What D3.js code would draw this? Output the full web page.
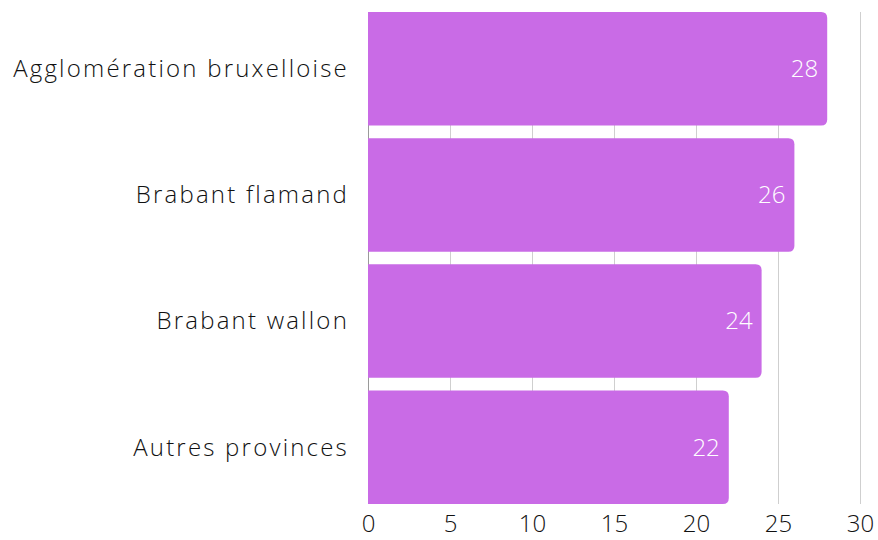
<!DOCTYPE html>
<html><head><meta charset="utf-8">
<script src="https://cdn.jsdelivr.net/npm/d3@7"></script>
<style>html,body{margin:0;padding:0;background:#fff;}</style>
</head><body>
<svg id="chart" width="878" height="540"></svg>
<script>
const categories = ["Agglomération bruxelloise", "Brabant flamand", "Brabant wallon", "Autres provinces"];
const values = [28, 26, 24, 22];
const tickValues = [0, 5, 10, 15, 20, 25, 30];

const svg = d3.select("#chart");
const font = "'Open Sans'";
const x = d3.scaleLinear().domain([0, 30]).range([368, 860]);
const y = d3.scaleBand().domain(categories).range([12, 504]).paddingInner(0.1).paddingOuter(0);

svg.append("g").selectAll("line").data(tickValues).join("line")
  .attr("x1", d => x(d) + 0.5).attr("x2", d => x(d) + 0.5)
  .attr("y1", 12).attr("y2", 504)
  .attr("stroke", d => d === 0 ? "#9a9a9a" : "#cfcfcf").attr("stroke-width", 1);

const r = 6;
svg.append("g").selectAll("path").data(values).join("path")
  .attr("fill", "#C96BE6")
  .attr("d", (d, i) => {
    const x0 = x(0), x1 = x(d), y0 = y(categories[i]), h = y.bandwidth();
    return `M${x0},${y0}H${x1 - r}Q${x1},${y0} ${x1},${y0 + r}V${y0 + h - r}Q${x1},${y0 + h} ${x1 - r},${y0 + h}H${x0}Z`;
  });

function styleText(sel) {
  sel.style("font-family", font).style("font-size", "24px").style("font-weight", 300);
}

svg.append("g").selectAll("text").data(values).join("text")
  .attr("x", d => x(d) - 9)
  .attr("y", (d, i) => y(categories[i]) + y.bandwidth() / 2)
  .attr("dy", "0.35em")
  .attr("text-anchor", "end")
  .attr("fill", "#ffffff")
  .call(styleText)
  .text(d => d);

svg.append("g").selectAll("text").data(categories).join("text")
  .attr("x", 349)
  .attr("y", d => y(d) + y.bandwidth() / 2)
  .attr("dy", "0.35em")
  .attr("text-anchor", "end")
  .attr("fill", "#111111")
  .call(styleText)
  .style("letter-spacing", "2.2px")
  .text(d => d);

const xAxis = d3.axisBottom(x).tickValues(tickValues).tickSize(0).tickPadding(0);
const ax = svg.append("g").attr("transform", "translate(0,515)").call(xAxis);
ax.select(".domain").remove();
ax.selectAll("text").attr("fill", "#111111").call(styleText).attr("dy", "0.71em");
</script>
</body></html>
